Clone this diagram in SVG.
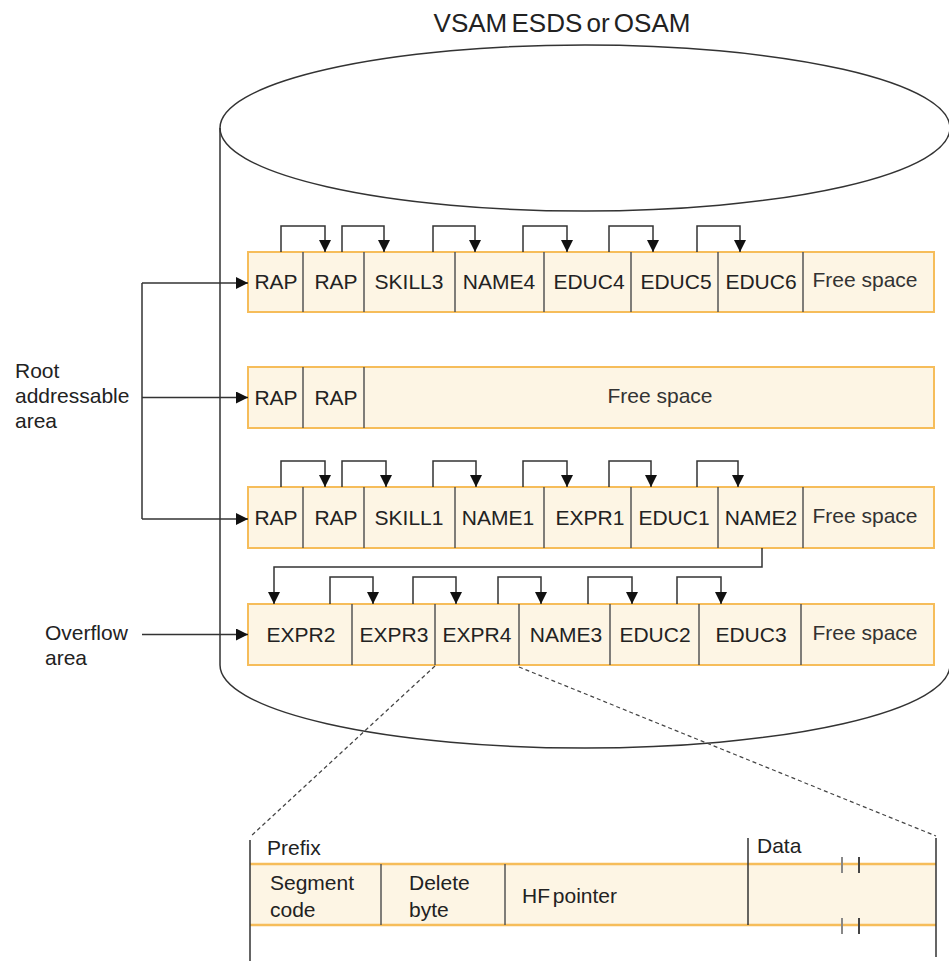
<svg xmlns="http://www.w3.org/2000/svg" width="949" height="961" viewBox="0 0 949 961">
<style>
  .t{font-family:"Liberation Sans",Arial,sans-serif;font-size:21px;fill:#222;}
  .fs{font-family:"Liberation Sans",Arial,sans-serif;font-size:21px;fill:#333;}
  .box{fill:#fdf5e4;stroke:#f6bd5a;stroke-width:2;}
  .div{stroke:#555;stroke-width:1.5;fill:none;}
  .cyl{fill:none;stroke:#333;stroke-width:1.5;}
  .con{fill:none;stroke:#333;stroke-width:1.5;}
  .dash{fill:none;stroke:#444;stroke-width:1.2;stroke-dasharray:4 3;}
  .orl{stroke:#f6bd5a;stroke-width:2.5;}
</style>
<defs>
  <marker id="ah" markerUnits="userSpaceOnUse" markerWidth="13" markerHeight="12" refX="12" refY="6" orient="auto">
    <path d="M0,0 L12,6 L0,12 z" fill="#111"/>
  </marker>
</defs>
<rect width="949" height="961" fill="#fff"/>

<text class="t" x="562" y="32" text-anchor="middle" style="font-size:26px;word-spacing:-3px">VSAM ESDS or OSAM</text>

<g id="cylinder">
  <ellipse class="cyl" cx="585" cy="128" rx="365" ry="83"/>
  <path class="cyl" d="M220,128 V665 A365,83 0 0 0 950,665 V128"/>
</g>

<g id="labels">
  <text class="t" x="15" y="378">Root</text>
  <text class="t" x="15" y="403">addressable</text>
  <text class="t" x="15" y="428">area</text>
  <text class="t" x="45" y="640">Overflow</text>
  <text class="t" x="45" y="665">area</text>
</g>

<g id="row1">
  <rect class="box" x="248" y="252" width="686" height="60"/>
  <path class="div" d="M303,252V312M364,252V312M455,252V312M544,252V312M631,252V312M718,252V312M803,252V312"/>
  <text class="t" x="276" y="289" text-anchor="middle">RAP</text>
  <text class="t" x="336" y="289" text-anchor="middle">RAP</text>
  <text class="t" x="409" y="289" text-anchor="middle">SKILL3</text>
  <text class="t" x="499" y="289" text-anchor="middle">NAME4</text>
  <text class="t" x="589" y="289" text-anchor="middle">EDUC4</text>
  <text class="t" x="676" y="289" text-anchor="middle">EDUC5</text>
  <text class="t" x="761" y="289" text-anchor="middle">EDUC6</text>
  <text class="fs" x="865" y="287" text-anchor="middle">Free space</text>
</g>

<g id="row2">
  <rect class="box" x="248" y="367" width="686" height="61"/>
  <path class="div" d="M303,367V428M364,367V428"/>
  <text class="t" x="276" y="405" text-anchor="middle">RAP</text>
  <text class="t" x="336" y="405" text-anchor="middle">RAP</text>
  <text class="fs" x="660" y="403" text-anchor="middle">Free space</text>
</g>

<g id="row3">
  <rect class="box" x="248" y="487" width="686" height="61"/>
  <path class="div" d="M303,487V548M364,487V548M455,487V548M544,487V548M631,487V548M718,487V548M803,487V548"/>
  <text class="t" x="276" y="525" text-anchor="middle">RAP</text>
  <text class="t" x="336" y="525" text-anchor="middle">RAP</text>
  <text class="t" x="409" y="525" text-anchor="middle">SKILL1</text>
  <text class="t" x="498" y="525" text-anchor="middle">NAME1</text>
  <text class="t" x="590" y="525" text-anchor="middle">EXPR1</text>
  <text class="t" x="674" y="525" text-anchor="middle">EDUC1</text>
  <text class="t" x="761" y="525" text-anchor="middle">NAME2</text>
  <text class="fs" x="865" y="523" text-anchor="middle">Free space</text>
</g>

<g id="row4">
  <rect class="box" x="248" y="604" width="686" height="61"/>
  <path class="div" d="M352,604V665M435,604V665M519,604V665M610,604V665M699,604V665M801,604V665"/>
  <text class="t" x="301" y="642" text-anchor="middle">EXPR2</text>
  <text class="t" x="394" y="642" text-anchor="middle">EXPR3</text>
  <text class="t" x="477" y="642" text-anchor="middle">EXPR4</text>
  <text class="t" x="566" y="642" text-anchor="middle">NAME3</text>
  <text class="t" x="655" y="642" text-anchor="middle">EDUC2</text>
  <text class="t" x="751" y="642" text-anchor="middle">EDUC3</text>
  <text class="fs" x="865" y="640" text-anchor="middle">Free space</text>
</g>

<g id="segment-detail">
  <rect x="250" y="864" width="686" height="61" fill="#fdf5e4"/>
  <line class="orl" x1="250" y1="864" x2="936" y2="864"/>
  <line class="orl" x1="250" y1="925" x2="936" y2="925"/>
  <path class="div" d="M381,864V925M505,864V925"/>
  <path class="con" d="M748,838V925"/>
  <path class="con" d="M250,840V961M936,838V957"/>
  <path d="M842,857V873M842,918V934" stroke="#888" stroke-width="2"/>
  <path d="M859,857V873M859,918V934" stroke="#444" stroke-width="2"/>
  <text class="t" x="267" y="855">Prefix</text>
  <text class="t" x="757" y="853">Data</text>
  <text class="t" x="270" y="890">Segment</text>
  <text class="t" x="270" y="917">code</text>
  <text class="t" x="409" y="890">Delete</text>
  <text class="t" x="409" y="917">byte</text>
  <text class="t" x="522" y="903" style="word-spacing:-3px">HF pointer</text>
</g>

<g id="connectors">
  <path class="con" d="M142,283V519"/>
  <path class="con" d="M142,283H248" marker-end="url(#ah)"/>
  <path class="con" d="M142,397.5H248" marker-end="url(#ah)"/>
  <path class="con" d="M142,519H248" marker-end="url(#ah)"/>
  <path class="con" d="M142,634.5H248" marker-end="url(#ah)"/>

  <path class="con" d="M281,252V226H325V252" marker-end="url(#ah)"/>
  <path class="con" d="M342,252V226H384V252" marker-end="url(#ah)"/>
  <path class="con" d="M433,252V226H475V252" marker-end="url(#ah)"/>
  <path class="con" d="M523,252V226H567V252" marker-end="url(#ah)"/>
  <path class="con" d="M609,252V226H653V252" marker-end="url(#ah)"/>
  <path class="con" d="M697,252V226H740V252" marker-end="url(#ah)"/>

  <path class="con" d="M281,487V461H325V487" marker-end="url(#ah)"/>
  <path class="con" d="M342,487V461H386V487" marker-end="url(#ah)"/>
  <path class="con" d="M433,487V461H476V487" marker-end="url(#ah)"/>
  <path class="con" d="M523,487V461H567V487" marker-end="url(#ah)"/>
  <path class="con" d="M609,487V461H651V487" marker-end="url(#ah)"/>
  <path class="con" d="M697,487V461H738V487" marker-end="url(#ah)"/>

  <path class="con" d="M762,548V567H274V604" marker-end="url(#ah)"/>
  <path class="con" d="M330,604V577H373V604" marker-end="url(#ah)"/>
  <path class="con" d="M413,604V577H456V604" marker-end="url(#ah)"/>
  <path class="con" d="M498,604V577H541V604" marker-end="url(#ah)"/>
  <path class="con" d="M588,604V577H632V604" marker-end="url(#ah)"/>
  <path class="con" d="M677,604V577H721V604" marker-end="url(#ah)"/>

  <path class="dash" d="M435,666L251,836"/>
  <path class="dash" d="M519,667L936,836"/>
</g>
</svg>
